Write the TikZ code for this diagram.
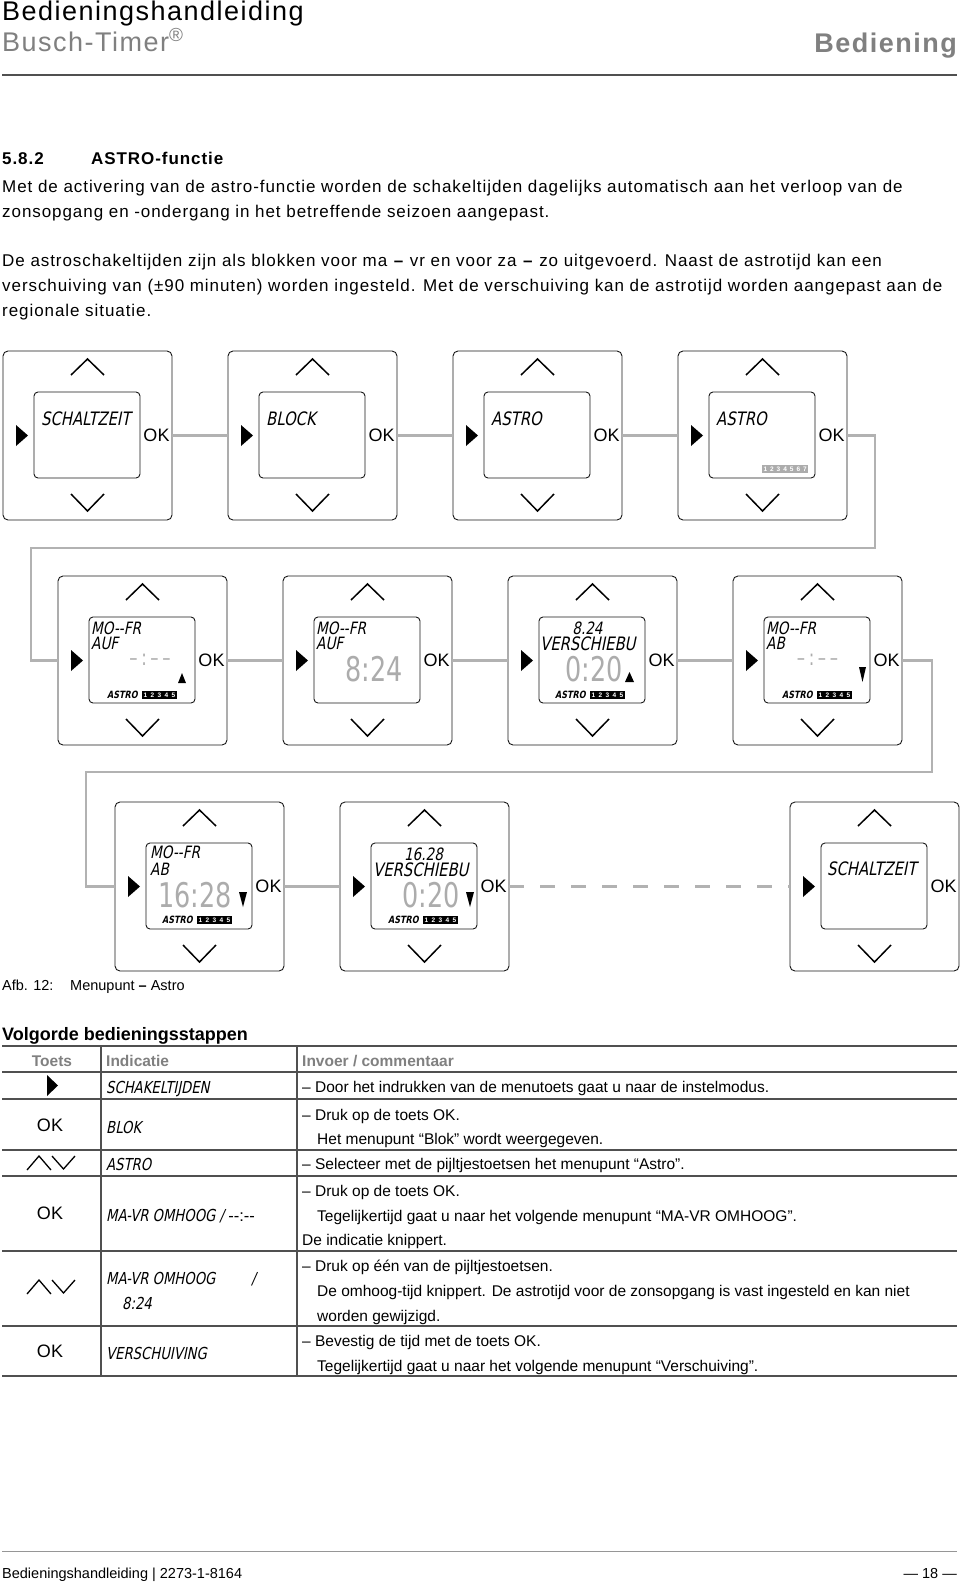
\documentclass[tikz,border=0pt]{standalone}
\usepackage{fontspec}
\setmainfont{Liberation Sans}
\newfontfamily\spacedfont[LetterSpace=5.5]{Liberation Sans}
\newfontfamily\lcdfont[FakeSlant=0.2,FakeStretch=0.8]{DejaVu Sans}
\newfontfamily\segfont[FakeStretch=0.75]{DejaVu Sans}
\definecolor{timercolor0000}{RGB}{178,178,178}
\definecolor{timercolor0001}{RGB}{24,24,24}
\definecolor{timercolor0002}{RGB}{80,80,80}
\definecolor{timercolor0003}{RGB}{128,128,128}
\definecolor{timercolor0004}{RGB}{172,172,172}
\definecolor{timercolor0005}{RGB}{150,150,150}

\begin{document}
\begin{tikzpicture}[yscale=-1,x=1pt,y=1pt
,devbox/.style={draw=timercolor0001,line width=0.9pt,rounded corners=5pt,minimum width=169pt,minimum height=169pt,inner sep=0pt}
,lcdscreen/.style={draw=timercolor0001,line width=0.9pt,rounded corners=4pt,minimum width=106pt,minimum height=86pt,inner sep=0pt}
,chev/.style={color=black,line width=1.5pt}
,link/.style={color=timercolor0000,line width=2.5pt}
,oklabel/.style={inner sep=0pt,font=\fontsize{18}{18}\selectfont}
,lcdsmall/.style={inner sep=0pt,anchor=west,font=\lcdfont\fontsize{17}{17}\selectfont}
,lcdbig/.style={inner sep=0pt,anchor=west,font=\lcdfont\fontsize{18.5}{19}\selectfont}
,segtext/.style={inner sep=0pt,color=timercolor0004,font=\segfont\fontsize{34}{34}\selectfont}
,segdash/.style={inner sep=0pt,color=timercolor0004,font=\segfont\fontsize{22}{22}\selectfont}
,astrolabel/.style={inner sep=0pt,anchor=west,font=\lcdfont\bfseries\fontsize{10}{10}\selectfont}
,cell/.style={inner sep=0pt,minimum width=7pt,minimum height=8pt,fill=black,text=white,font=\bfseries\fontsize{6.5}{6.5}\selectfont}
,headtext/.style={inner sep=0pt,anchor=base west,font=\spacedfont\fontsize{27}{29}\selectfont}
,bodytext/.style={inner sep=0pt,anchor=base west,font=\spacedfont\fontsize{17}{20}\selectfont}
,bodybold/.style={inner sep=0pt,anchor=base west,font=\spacedfont\bfseries\fontsize{17}{20}\selectfont}
,tabtext/.style={inner sep=0pt,anchor=base west,font=\fontsize{15.5}{18}\selectfont}
,tablcd/.style={inner sep=0pt,anchor=base west,font=\lcdfont\fontsize{16.5}{18}\selectfont}
,tabhead/.style={inner sep=0pt,anchor=base west,color=timercolor0003,font=\bfseries\fontsize{15.5}{18}\selectfont}
,smalltext/.style={inner sep=0pt,anchor=base west,font=\fontsize{14.5}{17}\selectfont}
,pstyle2/.style={color=timercolor0002,line width=1.3pt}
]
\fill[white] (0,0) rectangle (960,1585);
\useasboundingbox (0,0) rectangle (960,1585);
% page head
\node[headtext] (doctitle) at (2,20.5) {Bedieningshandleiding};
\node[headtext,color=timercolor0003] (product) at (2,51) {Busch-Timer\textsuperscript{®}};
\node[headtext,anchor=base east,color=timercolor0003,font=\spacedfont\bfseries\fontsize{27}{29}\selectfont] (chapter) at (957,52) {Bediening};
\draw[pstyle2] (2,75) -- (957,75);
% section text
\node[bodybold] (secnum) at (2,164.5) {5.8.2};
\node[bodybold] (sectitle) at (91,164.5) {ASTRO-functie};
\node[bodytext] (para1) at (2,192.5) {Met de activering van de astro-functie worden de schakeltijden dagelijks automatisch aan het verloop van de};
\node[bodytext] (para2) at (2,217.5) {zonsopgang en -ondergang in het betreffende seizoen aangepast.};
\node[bodytext] (para3) at (2,266.5) {De astroschakeltijden zijn als blokken voor ma \textbf{–} vr en voor za \textbf{–} zo uitgevoerd. Naast de astrotijd kan een};
\node[bodytext] (para4) at (2,291.5) {verschuiving van (±90 minuten) worden ingesteld. Met de verschuiving kan de astrotijd worden aangepast aan de};
\node[bodytext] (para5) at (2,316.5) {regionale situatie.};
% devices
\foreach \n/\x/\y in {1/3/351,2/228/351,3/453/351,4/678/351,5/58/576,6/283/576,7/508/576,8/733/576,9/115/802,10/340/802,11/790/802}{
\begin{scope}[shift={(\x,\y)}]
\node[devbox] (dev\n) at (84.5,84.5) {};
\node[lcdscreen] (scr\n) at (84,84) {};
\draw[chev] (68,24) -- (84.5,8) -- (101,24);
\draw[chev] (68,143) -- (84.5,160) -- (101,143);
\fill (13,74) -- (25,84.5) -- (13,95) -- cycle;
\node[oklabel] (ok\n) at (153.5,84.5) {OK};
\end{scope}
}
% screen contents
\node[lcdbig] (lcd1) at (41,419) {SCHALTZEIT};
\node[lcdbig] (lcd2) at (266,419) {BLOCK};
\node[lcdbig] (lcd3) at (491,419) {ASTRO};
\node[lcdbig] (lcd4) at (716,419) {ASTRO};
\foreach \k in {1,...,7}
  \node[cell,minimum width=6.6pt,fill=timercolor0004] (week\k) at ({758.7+6.6*\k},469) {\k};
\node[lcdsmall] (lcd5a) at (91,628.5) {MO-{}-FR};
\node[lcdsmall] (lcd5b) at (91,643.5) {AUF};
\node[segdash] (seg5) at (150,660) {–\,:\,–\,–};
\fill (178,683) -- (182,673) -- (186,683) -- cycle;
\node[lcdsmall] (lcd6a) at (316,628.5) {MO-{}-FR};
\node[lcdsmall] (lcd6b) at (316,643.5) {AUF};
\node[segtext,anchor=east] (seg6) at (403,669.5) {8:24};
\node[lcdsmall,anchor=center] (lcd7a) at (587.5,628.5) {8.24};
\node[lcdbig] (lcd7b) at (540,644) {VERSCHIEBU};
\node[segtext,anchor=east] (seg7) at (623,669.5) {0:20};
\fill (625,682) -- (629.5,672) -- (634,682) -- cycle;
\node[lcdsmall] (lcd8a) at (766,628.5) {MO-{}-FR};
\node[lcdsmall] (lcd8b) at (766,643.5) {AB};
\node[segdash] (seg8) at (817.5,660) {–\,:\,–\,–};
\fill (859,667) -- (866,667) -- (862.5,682) -- cycle;
\node[lcdsmall] (lcd9a) at (150,852.5) {MO-{}-FR};
\node[lcdsmall] (lcd9b) at (150,869) {AB};
\node[segtext,anchor=east] (seg9) at (232,895) {16:28};
\fill (239,892) -- (247,892) -- (243,907) -- cycle;
\node[lcdsmall,anchor=center] (lcd10a) at (423.5,854) {16.28};
\node[lcdbig] (lcd10b) at (373,870) {VERSCHIEBU};
\node[segtext,anchor=east] (seg10) at (460,895) {0:20};
\fill (466,892) -- (474,892) -- (470,907) -- cycle;
\node[lcdbig] (lcd11) at (827,869) {SCHALTZEIT};
\foreach \ax/\ay [count=\r] in {107/695,555/695,782/695,162/920,388/920}{
  \node[astrolabel] (astro\r) at (\ax,\ay) {ASTRO};
  \foreach \k in {1,...,5}
    \node[cell] (day\r\k) at ({\ax+31.5+7*\k},\ay) {\k};
}
% connectors
\draw[link] (dev1.east) -- (dev2.west);
\draw[link] (dev2.east) -- (dev3.west);
\draw[link] (dev3.east) -- (dev4.west);
\coordinate (turn1) at (875,548);
\coordinate (turn2) at (31,548);
\draw[link] (dev4.east) -| (turn1) -- (turn2) |- (dev5.west);
\draw[link] (dev5.east) -- (dev6.west);
\draw[link] (dev6.east) -- (dev7.west);
\draw[link] (dev7.east) -- (dev8.west);
\coordinate (turn3) at (932,772);
\coordinate (turn4) at (86,772);
\draw[link] (dev8.east) -| (turn3) -- (turn4) |- (dev9.west);
\draw[link] (dev9.east) -- (dev10.west);
\draw[link,dash pattern=on 15pt off 16pt] (dev10.east) -- (dev11.west);
% caption
\node[smalltext] (figno) at (2,990) {Afb. 12:};
\node[smalltext] (figtitle) at (70,990) {Menupunt \textbf{–} Astro};
% table
\node[inner sep=0pt,anchor=base west,font=\bfseries\fontsize{18}{20}\selectfont] (tabtitle) at (2,1040) {Volgorde bedieningsstappen};
\foreach \ry in {1046,1072,1099,1150,1176,1251,1326,1376}
  \draw[pstyle2] (2,\ry) -- (957,\ry);
\draw[pstyle2] (101,1046) -- (101,1376);
\draw[pstyle2] (297,1046) -- (297,1376);
\node[tabhead,anchor=base] (hkey) at (52,1066) {Toets};
\node[tabhead] (hshow) at (106,1066) {Indicatie};
\node[tabhead] (hnote) at (302,1066) {Invoer / commentaar};
% row 1
\fill (47,1075) -- (58,1085.5) -- (47,1096) -- cycle;
\node[tablcd] (show1) at (106,1093) {SCHAKELTIJDEN};
\node[tabtext] (note1) at (302,1092.5) {– Door het indrukken van de menutoets gaat u naar de instelmodus.};
% row 2
\node[oklabel] (key2) at (50,1125) {OK};
\node[tablcd] (show2) at (106,1133) {BLOK};
\node[tabtext] (note2a) at (302,1120.5) {– Druk op de toets OK.};
\node[tabtext] (note2b) at (317,1144.5) {Het menupunt “Blok” wordt weergegeven.};
% row 3
\draw[line width=1.3pt] (27,1170) -- (39,1156) -- (51,1170);
\draw[line width=1.3pt] (52,1156) -- (63.5,1169) -- (75,1156);
\node[tablcd] (show3) at (106,1170) {ASTRO};
\node[tabtext] (note3) at (302,1169.5) {– Selecteer met de pijltjestoetsen het menupunt “Astro”.};
% row 4
\node[oklabel] (key4) at (50,1213) {OK};
\node[tablcd] (show4) at (106,1221) {MA-VR OMHOOG / {\normalfont -{}-:-{}-}};
\node[tabtext] (note4a) at (302,1196.5) {– Druk op de toets OK.};
\node[tabtext] (note4b) at (317,1221.5) {Tegelijkertijd gaat u naar het volgende menupunt “MA-VR OMHOOG”.};
\node[tabtext] (note4c) at (302,1245.5) {De indicatie knippert.};
% row 5
\draw[line width=1.3pt] (27,1294) -- (39,1280) -- (51,1294);
\draw[line width=1.3pt] (52,1280) -- (63.5,1293) -- (75,1280);
\node[tablcd] (show5a) at (106,1284) {MA-VR OMHOOG\hspace{36pt}/};
\node[tablcd] (show5b) at (122,1309) {8:24};
\node[tabtext] (note5a) at (302,1271.5) {– Druk op één van de pijltjestoetsen.};
\node[tabtext] (note5b) at (317,1296.5) {De omhoog-tijd knippert. De astrotijd voor de zonsopgang is vast ingesteld en kan niet};
\node[tabtext] (note5c) at (317,1321.5) {worden gewijzigd.};
% row 6
\node[oklabel] (key6) at (50,1351) {OK};
\node[tablcd] (show6) at (106,1359) {VERSCHUIVING};
\node[tabtext] (note6a) at (302,1346.5) {– Bevestig de tijd met de toets OK.};
\node[tabtext] (note6b) at (317,1371.5) {Tegelijkertijd gaat u naar het volgende menupunt “Verschuiving”.};
% page foot
\draw[color=timercolor0005,line width=1pt] (2,1551) -- (957,1551);
\node[smalltext] (footleft) at (2,1578) {Bedieningshandleiding | 2273-1-8164};
\node[smalltext,anchor=base east] (footright) at (957,1578) {— 18 —};
\end{tikzpicture}
\end{document}
